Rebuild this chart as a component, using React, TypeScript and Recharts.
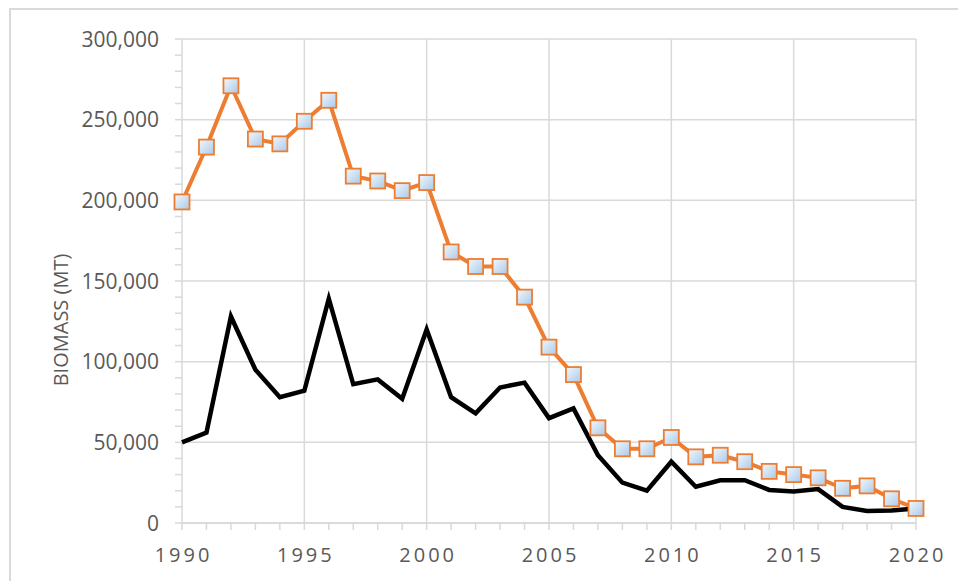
import { LineChart, Line, XAxis, YAxis, CartesianGrid } from "recharts"

const years = [
  1990, 1991, 1992, 1993, 1994, 1995, 1996, 1997, 1998, 1999, 2000, 2001, 2002, 2003, 2004, 2005,
  2006, 2007, 2008, 2009, 2010, 2011, 2012, 2013, 2014, 2015, 2016, 2017, 2018, 2019, 2020,
]

// orange series with square markers
const totalBiomass = [
  199000, 233000, 271000, 238000, 235000, 249000, 262000, 215000, 212000, 206000, 211000, 168000,
  159000, 159000, 140000, 109000, 92000, 59000, 46000, 46000, 53000, 41000, 42000, 38000, 32000,
  30000, 28000, 21500, 23000, 15000, 9000,
]

// black series
const spawningBiomass = [
  50000, 56000, 128000, 95000, 78000, 82000, 139000, 86000, 89000, 77000, 120000, 78000, 68000,
  84000, 87000, 65000, 71000, 42000, 25000, 20000, 38000, 22500, 26500, 26500, 20500, 19500, 21000,
  10000, 7500, 7800, 9000,
]

const xLabelYears = [1990, 1995, 2000, 2005, 2010, 2015, 2020]
const yMinorTicks = Array.from({ length: 31 }, (_, i) => i * 10000)
const yMajorTicks = [0, 50000, 100000, 150000, 200000, 250000, 300000]

const data = years.map((year, i) => ({
  year,
  total: totalBiomass[i],
  spawning: spawningBiomass[i],
}))

const GRID = "#d9d9d9"
const LABEL = "#595959"
const FONT = "'Open Sans', sans-serif"

function XTick(props: any) {
  const { x, y, payload } = props
  if (payload.value % 5 !== 0) return null
  return (
    <text
      x={x + 1.5}
      y={y}
      dy="0.72em"
      textAnchor="middle"
      fill={LABEL}
      fontSize={20}
      fontFamily={FONT}
      letterSpacing={3}
    >
      {payload.value}
    </text>
  )
}

function YTick(props: any) {
  const { x, y, payload } = props
  if (payload.value % 50000 !== 0) return null
  return (
    <text x={x} y={y} dy={7.5} textAnchor="end" fill={LABEL} fontSize={21} fontFamily={FONT}>
      {payload.value.toLocaleString("en-US")}
    </text>
  )
}

function SquareDot(props: any) {
  const { cx, cy } = props
  if (cx == null || cy == null) return null
  return (
    <rect
      x={cx - 7.5}
      y={cy - 7.5}
      width={15}
      height={15}
      fill="url(#markerFill)"
      stroke="#ed7d31"
      strokeWidth={1.8}
    />
  )
}

export default function App() {
  return (
    <div
      style={{
        position: "absolute",
        left: 0,
        top: 0,
        width: 958,
        height: 581,
        overflow: "hidden",
        background: "#fff",
      }}
    >
      <div
        style={{
          position: "absolute",
          left: 9,
          top: 8,
          width: 980,
          height: 620,
          border: `2px solid ${GRID}`,
        }}
      />
      <div
        style={{
          position: "absolute",
          left: 60,
          top: 320,
          transform: "translate(-50%, -50%) rotate(-90deg)",
          whiteSpace: "nowrap",
          fontFamily: FONT,
          fontSize: 20,
          color: LABEL,
        }}
      >
        BIOMASS (MT)
      </div>
      <div style={{ position: "absolute", left: 0, top: 0 }}>
        <LineChart
          width={958}
          height={581}
          data={data}
          margin={{ top: 39, right: 42, bottom: 18, left: 10 }}
        >
          <defs>
            <linearGradient id="markerFill" x1="0" y1="0" x2="1" y2="1">
              <stop offset="0%" stopColor="#f4f8fc" />
              <stop offset="100%" stopColor="#a9c9e8" />
            </linearGradient>
          </defs>
          <CartesianGrid
            stroke={GRID}
            strokeWidth={1.5}
            horizontalValues={yMajorTicks}
            verticalValues={xLabelYears}
          />
          <XAxis
            dataKey="year"
            type="number"
            domain={[1990, 2020]}
            ticks={years}
            interval={0}
            height={40}
            stroke={GRID}
            strokeWidth={1.5}
            tickSize={7}
            tickMargin={18}
            tick={<XTick />}
          />
          <YAxis
            type="number"
            domain={[0, 300000]}
            ticks={yMinorTicks}
            interval={0}
            width={172}
            axisLine={false}
            tickLine={{ stroke: GRID, strokeWidth: 1.5 }}
            tickSize={7}
            tickMargin={16}
            tick={<YTick />}
          />
          <Line
            type="linear"
            dataKey="total"
            stroke="#ed7d31"
            strokeWidth={4}
            dot={<SquareDot />}
            activeDot={false}
            isAnimationActive={false}
          />
          <Line
            type="linear"
            dataKey="spawning"
            stroke="#000"
            strokeWidth={4.5}
            dot={false}
            activeDot={false}
            isAnimationActive={false}
          />
        </LineChart>
      </div>
    </div>
  )
}
